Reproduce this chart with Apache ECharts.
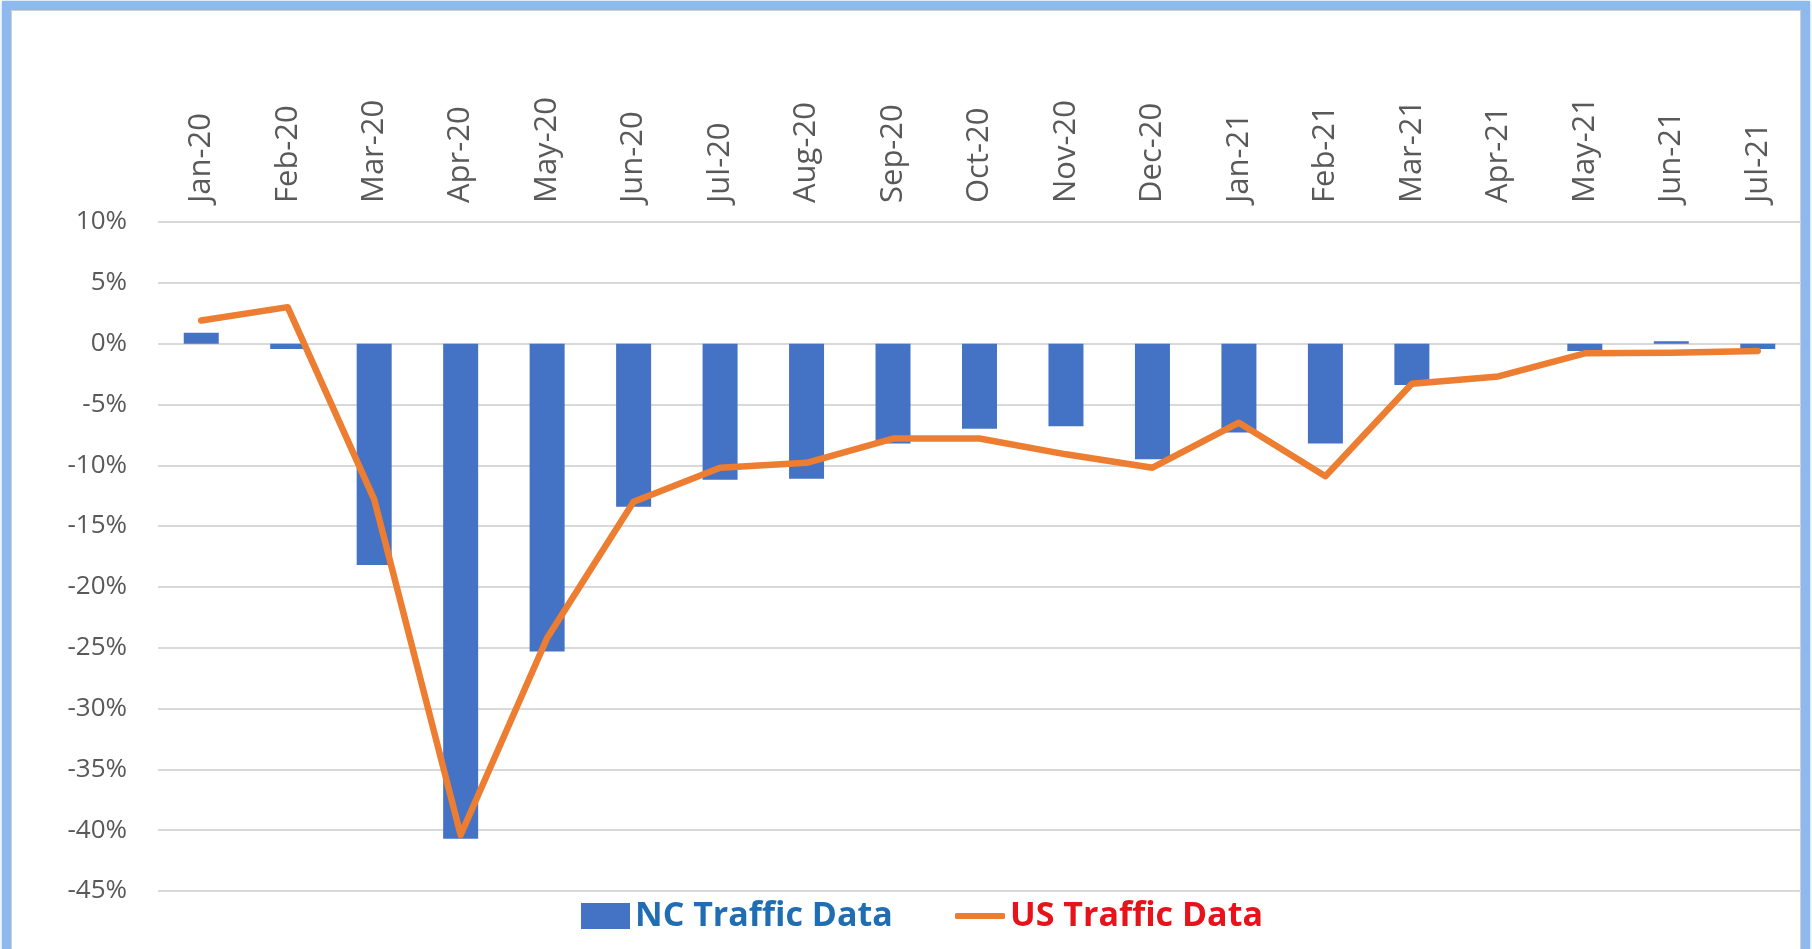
<!DOCTYPE html>
<html>
<head>
<meta charset="utf-8">
<script src="https://cdn.jsdelivr.net/npm/echarts@6/dist/echarts.min.js"></script>
<style>
  html, body { margin: 0; padding: 0; background: #fff; overflow: hidden; }
  #frame {
    position: absolute; left: 2px; top: 1px; width: 1790px; height: 980px;
    border: 9px solid #8DB9EE; box-shadow: 0 0 3px #A9CBF2;
  }
  #inner { position: absolute; left: 0; top: 0; right: 0; bottom: 0; border: 1px solid #CFCFCF; }
  #main { position: absolute; left: 0; top: 0; width: 1812px; height: 949px; }
</style>
</head>
<body>
<div id="frame"><div id="inner"></div></div>
<div id="main"></div>
<script type="text/javascript">
  var months = ['Jan-20', 'Feb-20', 'Mar-20', 'Apr-20', 'May-20', 'Jun-20', 'Jul-20', 'Aug-20', 'Sep-20', 'Oct-20',
    'Nov-20', 'Dec-20', 'Jan-21', 'Feb-21', 'Mar-21', 'Apr-21', 'May-21', 'Jun-21', 'Jul-21'];
  var ncTraffic = [0.9, -0.45, -18.2, -40.7, -25.3, -13.4, -11.2, -11.1, -8.2, -7.0,
    -6.8, -9.5, -7.3, -8.2, -3.4, 0, -0.6, 0.2, -0.45];
  var usTraffic = [1.9, 3.0, -12.8, -40.4, -24.2, -13.0, -10.2, -9.8, -7.8, -7.8,
    -9.1, -10.2, -6.5, -10.9, -3.3, -2.7, -0.8, -0.75, -0.6];

  var labelFont = '"Open Sans", "Noto Sans", sans-serif';

  var chart = echarts.init(document.getElementById('main'));
  chart.setOption({
    animation: false,
    grid: { left: 158, right: 11, top: 222, bottom: 58 },
    legend: [{
      left: 581, top: 899, padding: 0, itemWidth: 49, itemHeight: 26,
      data: [{ name: 'NC Traffic Data', icon: 'rect' }],
      textStyle: { color: '#1F6EB3', fontSize: 34, fontWeight: 'bold', fontFamily: labelFont }
    }, {
      left: 955, top: 899, padding: 0, itemWidth: 50, itemHeight: 6,
      data: [{ name: 'US Traffic Data', icon: 'roundRect' }],
      textStyle: { color: '#E8131A', fontSize: 34, fontWeight: 'bold', fontFamily: labelFont }
    }],
    xAxis: {
      type: 'category',
      position: 'top',
      data: months,
      axisLine: { show: false },
      axisTick: { show: false },
      axisLabel: { rotate: 90, margin: 19, color: '#595959', fontSize: 31, fontFamily: labelFont }
    },
    yAxis: {
      type: 'value',
      min: -45, max: 10, interval: 5,
      axisLine: { show: false },
      axisTick: { show: false },
      splitLine: { lineStyle: { color: '#D9D9D9', width: 2 } },
      axisLabel: { formatter: '{value}%', margin: 31, color: '#595959', fontSize: 26, fontFamily: labelFont }
    },
    series: [{
      name: 'NC Traffic Data',
      type: 'bar',
      data: ncTraffic,
      barWidth: 35,
      itemStyle: { color: '#4472C4' }
    }, {
      name: 'US Traffic Data',
      type: 'line',
      data: usTraffic,
      symbol: 'none',
      itemStyle: { color: '#ED7D31' },
      lineStyle: { color: '#ED7D31', width: 6.5, cap: 'round', join: 'round' }
    }]
  });
</script>
</body>
</html>
